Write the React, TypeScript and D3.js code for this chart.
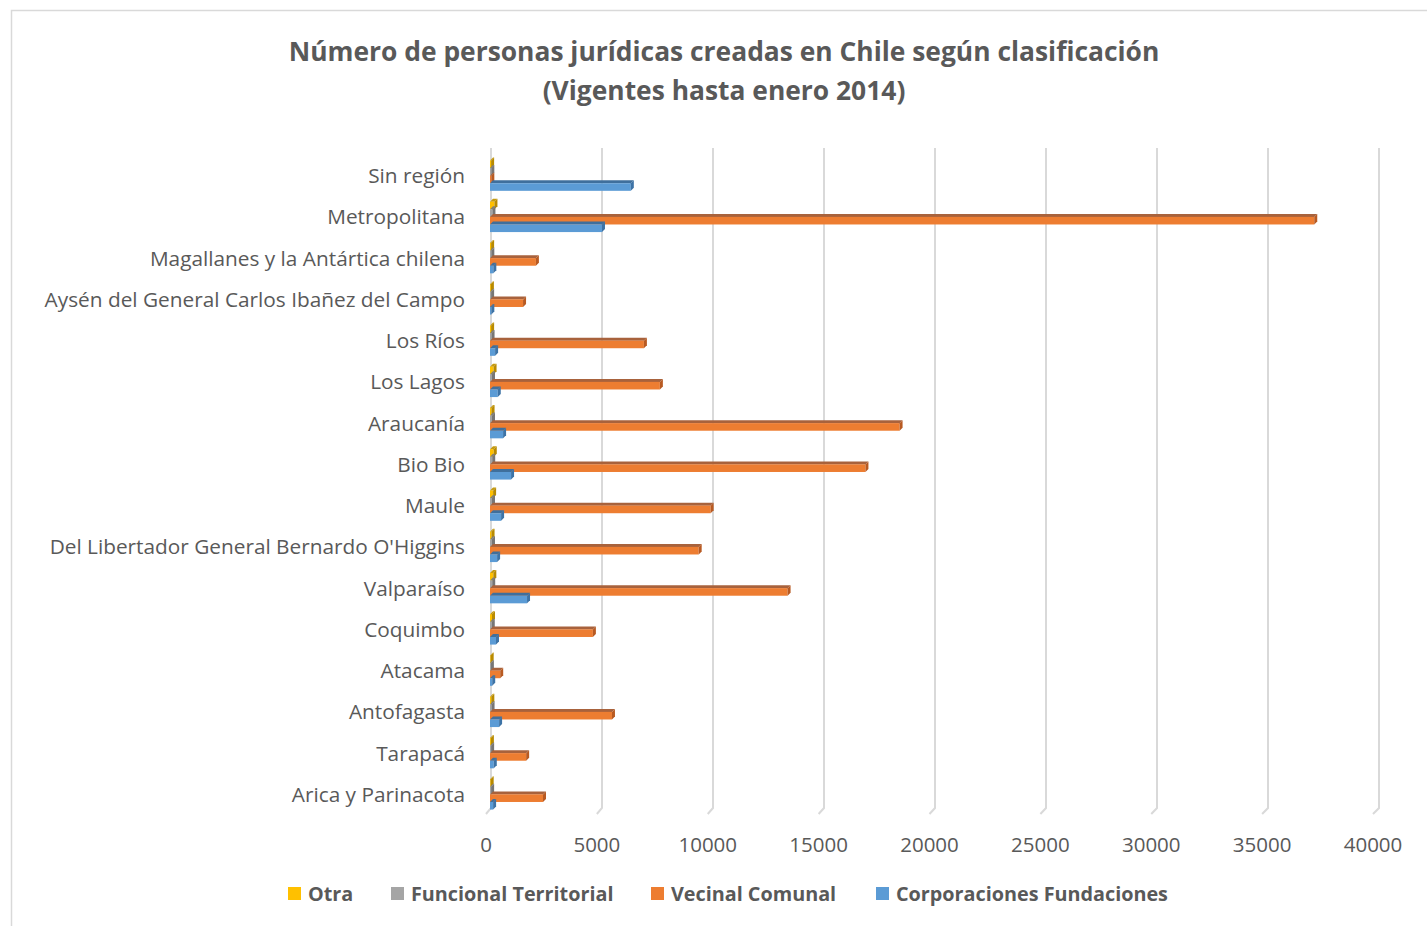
import React from "react";
import * as d3 from "d3";

const categories = [
  "Sin región",
  "Metropolitana",
  "Magallanes y la Antártica chilena",
  "Aysén del General Carlos Ibañez del Campo",
  "Los Ríos",
  "Los Lagos",
  "Araucanía",
  "Bio Bio",
  "Maule",
  "Del Libertador General Bernardo O'Higgins",
  "Valparaíso",
  "Coquimbo",
  "Atacama",
  "Antofagasta",
  "Tarapacá",
  "Arica y Parinacota",
];
const otra = [50, 200, 50, 40, 50, 160, 70, 170, 140, 70, 150, 90, 30, 60, 40, 30];
const funcional = [60, 110, 60, 50, 70, 90, 90, 100, 90, 90, 100, 80, 40, 70, 50, 50];
const vecinal = [60, 37170, 2070, 1490, 6940, 7660, 18470, 16930, 9950, 9410, 13420, 4640, 460, 5500, 1630, 2390];
const corporaciones = [6350, 5050, 150, 60, 230, 350, 590, 950, 500, 320, 1670, 270, 100, 410, 170, 140];
const xTicks = [0, 5000, 10000, 15000, 20000, 25000, 30000, 35000, 40000];
const seriesNames = ["Otra", "Funcional Territorial", "Vecinal Comunal", "Corporaciones Fundaciones"];

const seriesData = [otra, funcional, vecinal, corporaciones];
const colors = [
  { main: "#ffc000", top: "#c49a10", side: "#b88a00" },
  { main: "#a5a5a5", top: "#7d7d7d", side: "#767676" },
  { main: "#ed7d31", top: "#a8623c", side: "#b85a22" },
  { main: "#5b9bd5", top: "#3f6f9c", side: "#3d73a6" },
];

const FONT = "'Open Sans', 'Noto Sans', sans-serif";
const TXT = "#595959";

export default function App() {
  const W = 1427, H = 926;
  const xBack = d3.scaleLinear().domain([0, 40000]).range([491, 1379]);
  const xFront = d3.scaleLinear().domain([0, 40000]).range([486, 1373]);
  const xBar = d3.scaleLinear().domain([0, 40000]).range([490, 1377]);
  const y = d3.scaleBand().domain(categories).range([156, 816]).paddingInner(0).paddingOuter(0);
  const gridTop = 148, gridBottom = 808, slant = 6;
  const bh = 7.6;
  const d = 3;

  const legendItems = [
    { x: 288, label: seriesNames[0] },
    { x: 391, label: seriesNames[1] },
    { x: 651, label: seriesNames[2] },
    { x: 876, label: seriesNames[3] },
  ];

  return (
    <svg width={W} height={H} style={{ display: "block", position: "absolute", left: 0, top: 0 }}>
      <rect x={0} y={0} width={W} height={H} fill="#fff" />
      <rect x={11.5} y={10.5} width={1440} height={940} fill="#fff" stroke="#d9d9d9" strokeWidth={1.5} />
      <text x={724} y={61} textAnchor="middle" fontFamily={FONT} fontWeight="bold" fontSize={26.4} fill={TXT}>
        Número de personas jurídicas creadas en Chile según clasificación
      </text>
      <text x={724} y={100} textAnchor="middle" fontFamily={FONT} fontWeight="bold" fontSize={26.4} fill={TXT}>
        (Vigentes hasta enero 2014)
      </text>
      {xTicks.map((t) => (
        <g key={t}>
          <polyline
            points={`${xBack(t)},${gridTop} ${xBack(t)},${gridBottom} ${xFront(t)},${gridBottom + slant}`}
            fill="none"
            stroke="#d9d9d9"
            strokeWidth={2}
          />
          <text x={xFront(t)} y={852} textAnchor="middle" fontFamily={FONT} fontSize={20.5} fill={TXT}>
            {t}
          </text>
        </g>
      ))}
      {categories.map((c, i) => {
        const cy = (y(c) as number) + y.bandwidth() / 2;
        return (
          <g key={c}>
            <text x={465} y={cy + 6.5} textAnchor="end" fontFamily={FONT} fontSize={20.8} fill={TXT}>
              {c}
            </text>
            {seriesData.map((s, k) => {
              const x0 = xBar(0);
              const x1 = xBar(s[i]);
              const top = cy - 2 * bh + k * bh - 1;
              const col = colors[k];
              return (
                <g key={k}>
                  <polygon
                    points={`${x0},${top} ${x0 + d},${top - d} ${x1 + d},${top - d} ${x1},${top}`}
                    fill={col.top}
                  />
                  <rect x={x0} y={top} width={Math.max(0, x1 - x0)} height={bh} fill={col.main} />
                  <polygon
                    points={`${x1},${top} ${x1 + d},${top - d} ${x1 + d},${top + bh - d} ${x1},${top + bh}`}
                    fill={col.side}
                  />
                </g>
              );
            })}
          </g>
        );
      })}
      {legendItems.map((l, k) => (
        <g key={l.label}>
          <rect x={l.x} y={887} width={13} height={13} fill={colors[k].main} />
          <text x={l.x + 20} y={900.5} fontFamily={FONT} fontWeight="bold" fontSize={19.8} fill={TXT}>
            {l.label}
          </text>
        </g>
      ))}
    </svg>
  );
}
